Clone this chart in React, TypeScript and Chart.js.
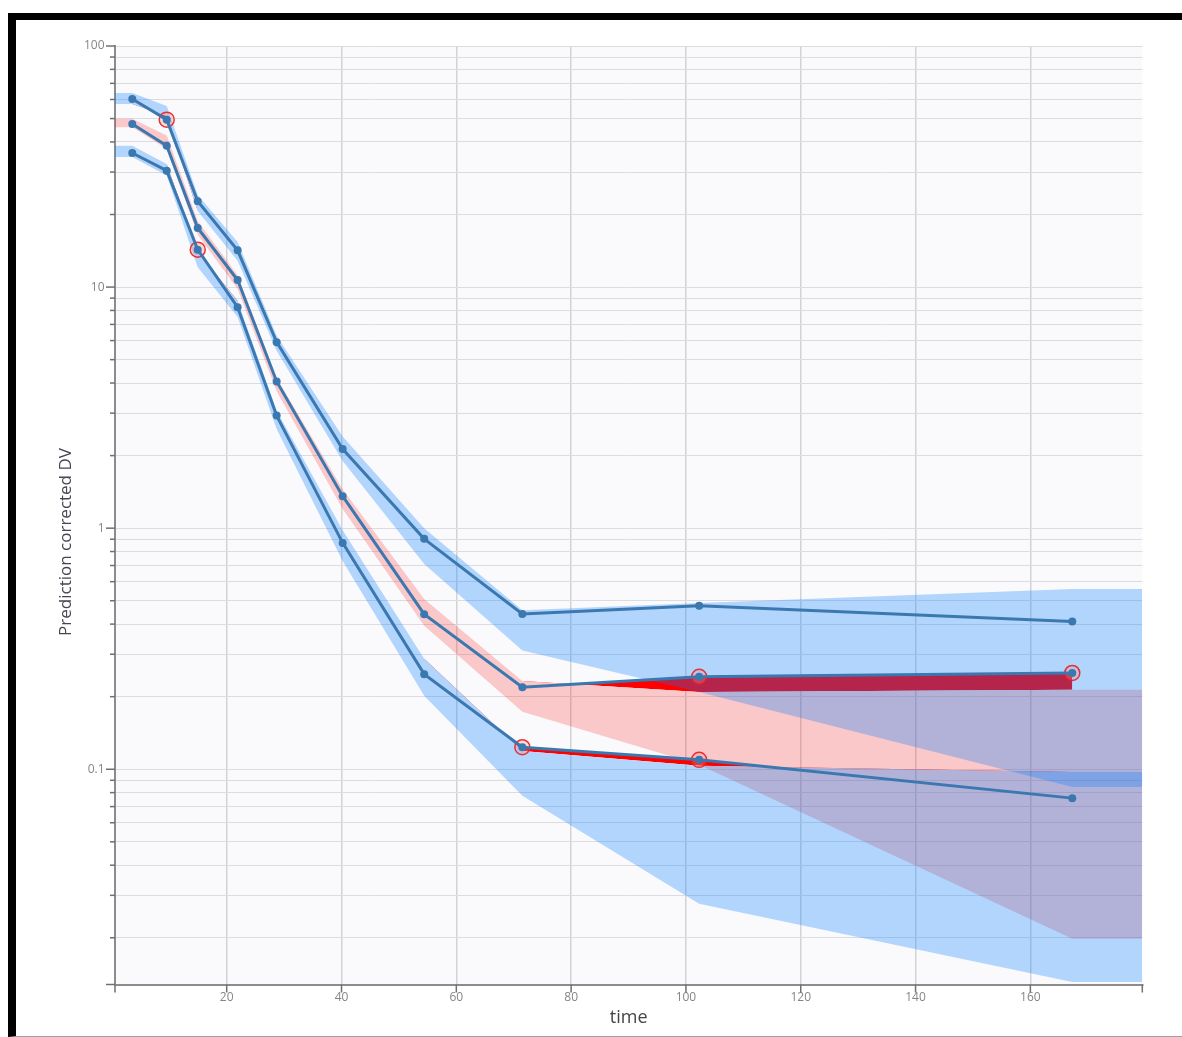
import React, { useEffect, useRef } from 'react';
import { Chart, registerables } from 'chart.js';

Chart.register(...registerables);

const FONT = "'Open Sans', 'Noto Sans', sans-serif";

// bin times
const TIMES = [3.55, 9.55, 14.95, 21.9, 28.7, 40.2, 54.4, 71.5, 102.3, 167.3];

// observed percentiles of the prediction corrected DV
const OBS_P95 = [60.3, 49.5, 22.7, 14.2, 5.91, 2.13, 0.903, 0.441, 0.477, 0.41];
const OBS_P50 = [47.5, 38.6, 17.6, 10.7, 4.06, 1.357, 0.44, 0.219, 0.242, 0.251];
const OBS_P05 = [36.0, 30.4, 14.3, 8.25, 2.93, 0.869, 0.248, 0.1235, 0.1094, 0.0759];

// simulated prediction intervals (upper / lower edges)
const PI95_HI = [63.9, 56.4, 24.1, 15.4, 6.29, 2.4, 1.0, 0.457, 0.489, 0.56];
const PI95_LO = [57.5, 51.3, 20.7, 12.85, 5.45, 1.9, 0.71, 0.311, 0.209, 0.0845];
const PI50_HI = [49.9, 42.5, 18.8, 11.2, 4.2, 1.45, 0.509, 0.2326, 0.209, 0.2135];
const PI50_LO = [46.0, 37.4, 16.5, 9.83, 3.7, 1.2, 0.394, 0.173, 0.1043, 0.0198];
const PI05_HI = [38.6, 32.4, 14.0, 8.77, 3.07, 0.98, 0.287, 0.119, 0.1033, 0.0975];
const PI05_LO = [34.6, 29.0, 12.1, 7.52, 2.58, 0.73, 0.202, 0.0776, 0.0277, 0.0131];

// axes
const X_MIN = 0.54;
const X_MAX = 179.5;
const Y_MIN = 0.0128;
const Y_MAX = 100;
const X_TICK_LABELS = [20, 40, 60, 80, 100, 120, 140, 160];
const Y_TICK_LABELS = [0.1, 1, 10, 100];
const X_TITLE = 'time';
const Y_TITLE = 'Prediction corrected DV';

const PINK = 'rgba(255,0,0,0.2)';
const BLUE = 'rgba(0,123,254,0.29)';
const RED = '#ff0000';
const LINE = '#3b78b0';

const Y_GRID: number[] = [Y_MIN];
for (let e = -2; e <= 1; e++) {
  for (let m = 1; m <= 9; m++) {
    const v = Number((m * Math.pow(10, e)).toPrecision(6));
    if (v > Y_MIN && v < Y_MAX) Y_GRID.push(v);
  }
}
Y_GRID.push(Y_MAX);

const band = (vals: number[]) => [
  { x: X_MIN, y: vals[0] },
  ...TIMES.map((t, i) => ({ x: t, y: vals[i] })),
  { x: X_MAX, y: vals[vals.length - 1] },
];
const series = (vals: number[]) => TIMES.map((t, i) => ({ x: t, y: vals[i] }));

// observed series kept only around bins where it leaves its interval
const excessSeries = (obs: number[], edge: number[], above: boolean) => {
  const out = obs.map((v, i) => (above ? v > edge[i] : v < edge[i]));
  return TIMES.map((t, i) => ({
    x: t,
    y: out[i] || out[i - 1] || out[i + 1] ? obs[i] : null,
  }));
};

const outliers = () => {
  const pts: { x: number; y: number }[] = [];
  const sets: [number[], number[], number[]][] = [
    [OBS_P95, PI95_LO, PI95_HI],
    [OBS_P50, PI50_LO, PI50_HI],
    [OBS_P05, PI05_LO, PI05_HI],
  ];
  sets.forEach(([obs, lo, hi]) => {
    obs.forEach((v, i) => {
      if (v < lo[i] || v > hi[i]) pts.push({ x: TIMES[i], y: v });
    });
  });
  return pts;
};

const hidden = { borderColor: 'transparent', borderWidth: 1, pointRadius: 0, pointHoverRadius: 0, spanGaps: false };

const framePlugin = {
  id: 'vpcFrame',
  beforeDraw(chart: any) {
    const { ctx, chartArea: a } = chart;
    ctx.save();
    ctx.fillStyle = '#fafafc';
    ctx.fillRect(a.left, a.top, a.right - a.left, a.bottom - a.top);
    ctx.restore();
  },
  afterDraw(chart: any) {
    const { ctx, chartArea: a, scales } = chart;
    const x = scales.x;
    const y = scales.y;
    ctx.save();
    ctx.strokeStyle = '#707070';
    ctx.lineWidth = 1.5;
    y.ticks.forEach((t: any) => {
      const py = y.getPixelForValue(t.value);
      const major = Y_TICK_LABELS.includes(t.value) || t.value === Y_MIN;
      const len = major ? 9 : 5;
      ctx.beginPath();
      ctx.moveTo(a.left - len, py);
      ctx.lineTo(a.left, py);
      ctx.stroke();
    });
    x.ticks.forEach((t: any) => {
      const px = x.getPixelForValue(t.value);
      ctx.beginPath();
      ctx.moveTo(px, a.bottom);
      ctx.lineTo(px, a.bottom + 8);
      ctx.stroke();
    });
    ctx.fillStyle = '#444';
    ctx.textAlign = 'center';
    ctx.textBaseline = 'middle';
    ctx.font = `18px ${FONT}`;
    ctx.fillText(X_TITLE, (a.left + a.right) / 2, 1018);
    ctx.translate(66, 542);
    ctx.rotate(-Math.PI / 2);
    ctx.font = `17px ${FONT}`;
    ctx.fillStyle = '#4a4450';
    ctx.fillText(Y_TITLE, 0, 0);
    ctx.restore();
  },
};

export default function App() {
  const ref = useRef<HTMLCanvasElement | null>(null);

  useEffect(() => {
    if (!ref.current) return;
    const datasets: any[] = [
      // 0,1: median interval (pink)
      { ...hidden, data: band(PI50_LO), fill: false, order: 100 },
      { ...hidden, data: band(PI50_HI), fill: { target: 0 }, backgroundColor: PINK, order: 99 },
      // 2,3: 95th percentile interval
      { ...hidden, data: band(PI95_LO), fill: false, order: 50 },
      { ...hidden, data: band(PI95_HI), fill: { target: 2 }, backgroundColor: BLUE, order: 49 },
      // 4,5: 5th percentile interval
      { ...hidden, data: band(PI05_LO), fill: false, order: 50 },
      { ...hidden, data: band(PI05_HI), fill: { target: 4 }, backgroundColor: BLUE, order: 48 },
      // 6..11: red areas where observed lies outside the interval
      { ...hidden, data: excessSeries(OBS_P95, PI95_HI, true), fill: { target: 3, above: RED, below: 'transparent' }, order: 60 },
      { ...hidden, data: excessSeries(OBS_P95, PI95_LO, false), fill: { target: 2, above: 'transparent', below: RED }, order: 60 },
      { ...hidden, data: excessSeries(OBS_P50, PI50_HI, true), fill: { target: 1, above: RED, below: 'transparent' }, order: 60 },
      { ...hidden, data: excessSeries(OBS_P50, PI50_LO, false), fill: { target: 0, above: 'transparent', below: RED }, order: 60 },
      { ...hidden, data: excessSeries(OBS_P05, PI05_HI, true), fill: { target: 5, above: RED, below: 'transparent' }, order: 60 },
      { ...hidden, data: excessSeries(OBS_P05, PI05_LO, false), fill: { target: 4, above: 'transparent', below: RED }, order: 60 },
      // 12: outlier circles
      {
        data: outliers(),
        showLine: false,
        pointRadius: 7.5,
        pointBorderWidth: 1.5,
        pointBorderColor: 'rgba(235,30,30,0.9)',
        pointBackgroundColor: 'rgba(255,140,140,0.3)',
        order: 3,
      },
      // 13..15: observed percentile lines
      ...[OBS_P95, OBS_P50, OBS_P05].map((vals) => ({
        data: series(vals),
        borderColor: LINE,
        borderWidth: 3,
        pointRadius: 4,
        pointBorderWidth: 0,
        pointBackgroundColor: LINE,
        fill: false,
        order: 1,
      })),
    ];

    const chart = new Chart(ref.current, {
      type: 'line',
      data: { datasets },
      plugins: [framePlugin],
      options: {
        animation: false,
        responsive: false,
        events: [],
        layout: { padding: { top: 46, right: 1182 - 1142.3, left: 0, bottom: 0 } },
        elements: { line: { tension: 0 } },
        plugins: { legend: { display: false }, tooltip: { enabled: false } },
        scales: {
          x: {
            type: 'linear',
            min: X_MIN,
            max: X_MAX,
            afterBuildTicks: (s: any) => {
              s.ticks = [X_MIN, ...X_TICK_LABELS, X_MAX].map((v) => ({ value: v }));
            },
            afterFit: (s: any) => {
              s.height = 1037 - 984.5;
            },
            ticks: {
              autoSkip: false,
              maxRotation: 0,
              padding: 6,
              color: '#858585',
              font: { family: FONT, size: 12 },
              callback: (v: any) => (X_TICK_LABELS.includes(v) ? String(v) : ''),
            },
            grid: {
              drawTicks: false,
              lineWidth: 1.5,
              color: (c: any) => (c.tick && X_TICK_LABELS.includes(c.tick.value) ? '#d3d3d6' : 'transparent'),
            },
            border: { color: '#8c8c8c', width: 2 },
          },
          y: {
            type: 'logarithmic',
            min: Y_MIN,
            max: Y_MAX,
            afterBuildTicks: (s: any) => {
              s.ticks = Y_GRID.map((v) => ({ value: v }));
            },
            afterFit: (s: any) => {
              s.width = 115;
            },
            ticks: {
              autoSkip: false,
              padding: 10.5,
              color: '#858585',
              font: { family: FONT, size: 12 },
              callback: (v: any) => (Y_TICK_LABELS.includes(v) ? String(v) : ''),
            },
            grid: { drawTicks: false, lineWidth: 1, color: '#dcdce0' },
            border: { color: '#8c8c8c', width: 2 },
          },
        },
      } as any,
    });
    return () => chart.destroy();
  }, []);

  return (
    <div style={{ position: 'absolute', left: 0, top: 0, width: 1182, height: 1037, background: '#fff' }}>
      <canvas ref={ref} width={1182} height={1037} style={{ position: 'absolute', left: 0, top: 0 }} />
      <div
        style={{
          position: 'absolute',
          left: 8,
          top: 13,
          width: 1174,
          height: 1024,
          boxSizing: 'border-box',
          borderTop: '7px solid #000',
          borderLeft: '8px solid #000',
          borderBottom: '1px solid #a0a0a0',
          pointerEvents: 'none',
        }}
      />
    </div>
  );
}
